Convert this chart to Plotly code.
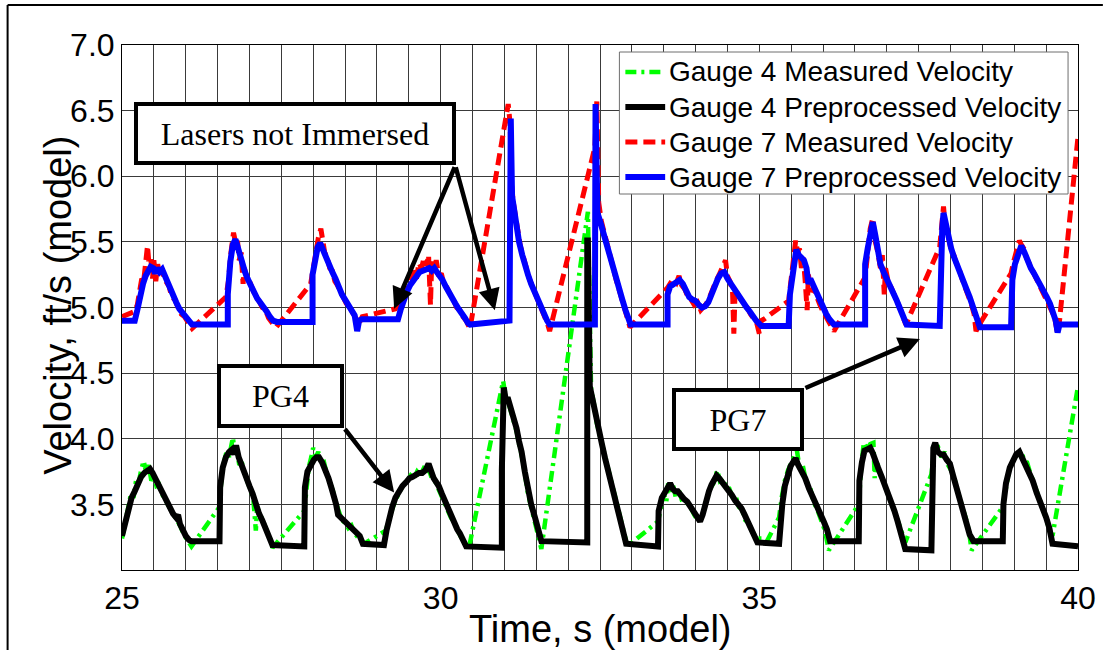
import plotly.graph_objects as go

# ---------------- data (time s, velocity ft/s) ----------------
G4_MEAS = [
    (25.00, 3.24), (25.05, 3.38), (25.10, 3.48), (25.14, 3.58), (25.18, 3.55), (25.22, 3.68), (25.26, 3.66),
    (25.30, 3.76), (25.34, 3.83), (25.38, 3.74), (25.42, 3.80), (25.46, 3.68), (25.50, 3.72), (25.54, 3.64),
    (25.58, 3.65), (25.62, 3.58), (25.67, 3.55), (25.72, 3.50), (25.77, 3.46), (25.82, 3.42), (25.87, 3.38),
    (25.92, 3.33), (25.97, 3.27), (26.03, 3.22), (26.09, 3.18),
    (26.53, 3.48), (26.56, 3.70), (26.60, 3.82), (26.64, 3.90), (26.68, 3.86), (26.71, 3.96), (26.74, 4.01),
    (26.77, 3.88), (26.80, 3.92), (26.84, 3.80), (26.88, 3.82), (26.92, 3.74), (26.97, 3.68), (27.02, 3.62),
    (27.06, 3.55), (27.10, 3.30), (27.12, 3.48), (27.17, 3.42), (27.22, 3.35), (27.27, 3.30), (27.32, 3.25),
    (27.36, 3.17),
    (27.86, 3.45), (27.89, 3.62), (27.93, 3.78), (27.97, 3.86), (28.00, 3.93), (28.04, 3.86), (28.08, 3.90),
    (28.12, 3.82), (28.16, 3.84), (28.21, 3.74), (28.26, 3.68), (28.31, 3.60), (28.35, 3.52), (28.40, 3.45),
    (28.45, 3.38), (28.50, 3.36), (28.55, 3.32), (28.60, 3.34), (28.65, 3.28), (28.70, 3.25), (28.76, 3.22),
    (28.80, 3.20),
    (29.14, 3.30), (29.18, 3.38), (29.23, 3.45), (29.28, 3.52), (29.33, 3.58), (29.38, 3.62), (29.43, 3.66),
    (29.48, 3.68), (29.53, 3.72), (29.58, 3.70), (29.63, 3.75), (29.68, 3.72), (29.73, 3.77), (29.78, 3.74),
    (29.82, 3.76), (29.86, 3.70), (29.91, 3.68), (29.96, 3.62), (30.01, 3.57), (30.06, 3.52), (30.11, 3.45),
    (30.16, 3.40), (30.21, 3.36), (30.26, 3.30), (30.31, 3.26), (30.36, 3.22), (30.44, 3.16),
    (30.98, 4.44), (31.02, 4.32), (31.06, 4.28), (31.10, 4.22), (31.14, 4.15), (31.19, 4.06), (31.23, 3.96),
    (31.27, 3.88), (31.32, 3.74), (31.37, 3.58), (31.42, 3.48), (31.47, 3.38), (31.52, 3.28), (31.58, 3.16),
    (32.31, 5.73), (32.36, 4.38), (32.40, 4.28), (32.45, 4.12), (32.50, 4.02), (32.55, 3.92), (32.60, 3.82),
    (32.65, 3.72), (32.70, 3.62), (32.75, 3.52), (32.80, 3.43), (32.85, 3.34), (32.89, 3.26), (32.93, 3.18),
    (33.41, 3.37), (33.45, 3.48), (33.50, 3.58), (33.54, 3.52), (33.57, 3.66), (33.61, 3.60), (33.65, 3.64),
    (33.69, 3.55), (33.73, 3.62), (33.78, 3.54), (33.83, 3.55), (33.88, 3.50), (33.93, 3.47), (33.98, 3.42),
    (34.03, 3.38), (34.08, 3.40), (34.13, 3.46), (34.18, 3.55), (34.23, 3.62), (34.28, 3.66), (34.34, 3.76),
    (34.38, 3.68), (34.43, 3.70), (34.48, 3.62), (34.53, 3.62), (34.58, 3.55), (34.63, 3.56), (34.68, 3.48),
    (34.73, 3.46), (34.78, 3.38), (34.83, 3.36), (34.88, 3.30), (34.93, 3.26), (34.98, 3.24), (35.05, 3.24),
    (35.12, 3.22),
    (35.31, 3.40), (35.35, 3.55), (35.40, 3.68), (35.45, 3.76), (35.50, 3.82), (35.55, 3.86), (35.59, 3.91),
    (35.63, 3.78), (35.68, 3.80), (35.73, 3.68), (35.79, 3.64), (35.85, 3.52), (35.91, 3.46), (35.97, 3.38),
    (36.03, 3.30), (36.09, 3.15),
    (36.56, 3.50), (36.60, 3.80), (36.64, 3.97), (36.69, 3.92), (36.74, 3.96), (36.79, 3.97), (36.81, 3.70),
    (36.84, 3.84), (36.89, 3.74), (36.94, 3.68), (36.99, 3.62), (37.04, 3.56), (37.09, 3.50), (37.14, 3.42),
    (37.19, 3.35), (37.24, 3.27), (37.29, 3.21),
    (37.70, 3.73), (37.74, 3.90), (37.78, 3.97), (37.82, 3.92), (37.86, 3.86), (37.91, 3.90), (37.96, 3.80),
    (38.01, 3.76), (38.06, 3.70), (38.11, 3.60), (38.16, 3.52), (38.21, 3.44), (38.26, 3.36), (38.30, 3.26),
    (38.33, 3.15),
    (38.82, 3.48), (38.86, 3.62), (38.91, 3.74), (38.96, 3.82), (39.01, 3.86), (39.06, 3.88), (39.11, 3.91),
    (39.15, 3.84), (39.20, 3.82), (39.25, 3.74), (39.31, 3.66), (39.36, 3.58), (39.41, 3.52), (39.46, 3.45),
    (39.51, 3.38), (39.55, 3.30), (39.60, 3.26),
    (40.00, 4.40),
]

G4_PRE = [
    (25.00, 3.26), (25.05, 3.36), (25.10, 3.46), (25.15, 3.55), (25.20, 3.60), (25.25, 3.66), (25.30, 3.71),
    (25.35, 3.74), (25.40, 3.76), (25.44, 3.77), (25.48, 3.74), (25.52, 3.70), (25.56, 3.66), (25.60, 3.62),
    (25.65, 3.57), (25.70, 3.53), (25.75, 3.48), (25.80, 3.43), (25.85, 3.40), (25.88, 3.42), (25.91, 3.35),
    (25.95, 3.30), (26.00, 3.26), (26.05, 3.23), (26.09, 3.22),
    (26.53, 3.22),
    (26.54, 3.63), (26.58, 3.78), (26.63, 3.86), (26.68, 3.90), (26.73, 3.92), (26.76, 3.88), (26.79, 3.95),
    (26.83, 3.86), (26.87, 3.80), (26.91, 3.76), (26.95, 3.70), (27.00, 3.64), (27.05, 3.58), (27.10, 3.50),
    (27.15, 3.43), (27.20, 3.38), (27.25, 3.32), (27.30, 3.26), (27.36, 3.19),
    (27.86, 3.18),
    (27.87, 3.63), (27.91, 3.75), (27.96, 3.81), (28.01, 3.84), (28.05, 3.86), (28.09, 3.86), (28.14, 3.82),
    (28.19, 3.77), (28.24, 3.70), (28.29, 3.62), (28.33, 3.56), (28.36, 3.50), (28.39, 3.42), (28.43, 3.40),
    (28.48, 3.37), (28.53, 3.35), (28.58, 3.33), (28.63, 3.31), (28.68, 3.28), (28.73, 3.26), (28.78, 3.20),
    (29.11, 3.19),
    (29.15, 3.30), (29.19, 3.40), (29.24, 3.48), (29.29, 3.55), (29.34, 3.60), (29.40, 3.64), (29.46, 3.67),
    (29.51, 3.70), (29.56, 3.71), (29.61, 3.73), (29.66, 3.74), (29.71, 3.74), (29.76, 3.76), (29.81, 3.81),
    (29.85, 3.74), (29.89, 3.70), (29.93, 3.67), (29.97, 3.64), (30.02, 3.58), (30.07, 3.52), (30.12, 3.46),
    (30.17, 3.42), (30.22, 3.37), (30.26, 3.31), (30.30, 3.28), (30.35, 3.24), (30.40, 3.18),
    (30.96, 3.17),
    (30.96, 3.76), (30.99, 4.39), (31.02, 4.30), (31.06, 4.30), (31.10, 4.24), (31.14, 4.18), (31.19, 4.08),
    (31.23, 3.98), (31.27, 3.90), (31.32, 3.75), (31.37, 3.60), (31.42, 3.50), (31.48, 3.40), (31.53, 3.30),
    (31.58, 3.22),
    (32.30, 3.21),
    (32.30, 5.51), (32.31, 5.51), (32.34, 4.40), (32.38, 4.30), (32.43, 4.15), (32.48, 4.05), (32.53, 3.96),
    (32.58, 3.85), (32.63, 3.75), (32.68, 3.65), (32.73, 3.56), (32.78, 3.47), (32.83, 3.37), (32.87, 3.28),
    (32.91, 3.20),
    (33.41, 3.18),
    (33.42, 3.45), (33.47, 3.55), (33.52, 3.60), (33.56, 3.63), (33.60, 3.66), (33.64, 3.62), (33.68, 3.60),
    (33.72, 3.60), (33.77, 3.56), (33.82, 3.54), (33.87, 3.52), (33.92, 3.48), (33.97, 3.44), (34.02, 3.40),
    (34.07, 3.37), (34.11, 3.42), (34.16, 3.52), (34.21, 3.60), (34.25, 3.65), (34.29, 3.68), (34.33, 3.72),
    (34.37, 3.70), (34.42, 3.67), (34.47, 3.64), (34.52, 3.60), (34.57, 3.57), (34.62, 3.53), (34.67, 3.50),
    (34.72, 3.47), (34.77, 3.42), (34.81, 3.38), (34.86, 3.32), (34.91, 3.27), (34.97, 3.21),
    (35.31, 3.20),
    (35.33, 3.35), (35.36, 3.50), (35.40, 3.64), (35.44, 3.73), (35.49, 3.79), (35.54, 3.83), (35.57, 3.85),
    (35.61, 3.80), (35.66, 3.76), (35.72, 3.70), (35.78, 3.62), (35.85, 3.55), (35.90, 3.48), (35.96, 3.42),
    (36.01, 3.37), (36.06, 3.31), (36.11, 3.22),
    (36.56, 3.22),
    (36.57, 3.68), (36.61, 3.82), (36.65, 3.91), (36.70, 3.92), (36.74, 3.93), (36.78, 3.89), (36.82, 3.82),
    (36.87, 3.77), (36.92, 3.71), (36.97, 3.65), (37.02, 3.58), (37.07, 3.52), (37.12, 3.45), (37.17, 3.37),
    (37.22, 3.29), (37.26, 3.22), (37.29, 3.16),
    (37.70, 3.15),
    (37.71, 3.70), (37.73, 3.93), (37.76, 3.97), (37.80, 3.90), (37.85, 3.88), (37.89, 3.88), (37.94, 3.84),
    (37.99, 3.81), (38.04, 3.72), (38.09, 3.63), (38.14, 3.55), (38.20, 3.43), (38.25, 3.35), (38.30, 3.27),
    (38.36, 3.22),
    (38.82, 3.22),
    (38.83, 3.50), (38.87, 3.66), (38.93, 3.78), (38.98, 3.84), (39.03, 3.88), (39.08, 3.90), (39.13, 3.85),
    (39.18, 3.80), (39.24, 3.74), (39.29, 3.68), (39.35, 3.59), (39.40, 3.53), (39.45, 3.48), (39.50, 3.40),
    (39.55, 3.32), (39.60, 3.20),
    (40.00, 3.18),
]

G7_MEAS = [
    (25.00, 4.93), (25.20, 4.97), (25.24, 5.02), (25.28, 5.12), (25.31, 5.22), (25.34, 5.20), (25.37, 5.32),
    (25.40, 5.47), (25.42, 5.35), (25.45, 5.38), (25.48, 5.22), (25.50, 5.36), (25.53, 5.20), (25.56, 5.33),
    (25.59, 5.25), (25.62, 5.30), (25.66, 5.22), (25.70, 5.18), (25.74, 5.16), (25.78, 5.08), (25.83, 5.06),
    (25.88, 5.00), (25.93, 4.95), (25.98, 4.93), (26.04, 4.88), (26.10, 4.84),
    (26.63, 5.08), (26.67, 5.20), (26.71, 5.42), (26.75, 5.57), (26.78, 5.50), (26.81, 5.52), (26.84, 5.36),
    (26.87, 5.42), (26.90, 5.18), (26.92, 5.30), (26.96, 5.22), (27.00, 5.20), (27.05, 5.14), (27.10, 5.08),
    (27.15, 5.05), (27.20, 5.00), (27.25, 4.98), (27.30, 4.92), (27.36, 4.88), (27.42, 4.85),
    (27.96, 5.18), (28.00, 5.30), (28.04, 5.42), (28.08, 5.53), (28.12, 5.60), (28.15, 5.48), (28.18, 5.42),
    (28.22, 5.38), (28.26, 5.30), (28.30, 5.28), (28.34, 5.20), (28.38, 5.17), (28.42, 5.12), (28.47, 5.08),
    (28.52, 5.03), (28.57, 5.01), (28.62, 4.96), (28.67, 4.92), (28.72, 4.88), (28.77, 4.93),
    (29.29, 4.99), (29.33, 5.03), (29.38, 5.08), (29.43, 5.14), (29.48, 5.18), (29.53, 5.24), (29.58, 5.28),
    (29.62, 5.22), (29.66, 5.34), (29.70, 5.30), (29.74, 5.38), (29.78, 5.32), (29.81, 5.40), (29.84, 5.02),
    (29.86, 5.35), (29.90, 5.28), (29.93, 5.36), (29.97, 5.24), (30.01, 5.26), (30.05, 5.18), (30.10, 5.15),
    (30.15, 5.10), (30.20, 5.06), (30.25, 5.00), (30.30, 4.98), (30.35, 4.93), (30.40, 4.90), (30.46, 4.84),
    (31.06, 6.55), (31.09, 6.40), (31.11, 5.95), (31.14, 5.80), (31.17, 5.70), (31.21, 5.58), (31.25, 5.47),
    (31.30, 5.38), (31.34, 5.30), (31.39, 5.22), (31.44, 5.16), (31.49, 5.10), (31.54, 5.04), (31.59, 4.98),
    (31.64, 4.93), (31.68, 4.87), (31.71, 4.82),
    (32.42, 6.22), (32.45, 6.57), (32.48, 5.80), (32.52, 5.66), (32.56, 5.58), (32.61, 5.47), (32.66, 5.37),
    (32.71, 5.28), (32.76, 5.20), (32.81, 5.12), (32.86, 5.04), (32.91, 4.97), (32.95, 4.90), (32.97, 4.85),
    (33.56, 5.15), (33.60, 5.18), (33.65, 5.22), (33.70, 5.19), (33.74, 5.24), (33.78, 5.17), (33.83, 5.14),
    (33.88, 5.08), (33.93, 5.06), (33.98, 5.02), (34.03, 5.04), (34.08, 4.98), (34.12, 5.00), (34.17, 5.03),
    (34.22, 5.08), (34.27, 5.15), (34.32, 5.20), (34.37, 5.25), (34.42, 5.30), (34.47, 5.36), (34.50, 5.24),
    (34.54, 5.20), (34.58, 5.12), (34.60, 4.80), (34.62, 5.14), (34.66, 5.10), (34.71, 5.06), (34.76, 5.03),
    (34.81, 5.00), (34.86, 4.95), (34.91, 4.92), (34.96, 4.88), (35.00, 4.80), (35.03, 4.90), (35.07, 4.91),
    (35.46, 5.05), (35.50, 5.22), (35.53, 5.35), (35.57, 5.51), (35.60, 5.42), (35.63, 5.45), (35.66, 5.30),
    (35.69, 5.38), (35.72, 5.20), (35.75, 4.98), (35.77, 5.25), (35.81, 5.12), (35.85, 5.15), (35.90, 5.08),
    (35.95, 5.02), (36.00, 4.97), (36.05, 4.93), (36.10, 4.88), (36.17, 4.82),
    (36.66, 5.23), (36.70, 5.42), (36.74, 5.60), (36.78, 5.68), (36.82, 5.50), (36.86, 5.42), (36.90, 5.30),
    (36.93, 5.40), (36.96, 5.10), (36.98, 5.30), (37.02, 5.20), (37.07, 5.15), (37.12, 5.10), (37.17, 5.04),
    (37.22, 4.98), (37.26, 4.92), (37.30, 4.87),
    (37.83, 5.46), (37.86, 5.65), (37.89, 5.77), (37.92, 5.60), (37.96, 5.55), (38.00, 5.46), (38.04, 5.42),
    (38.08, 5.35), (38.13, 5.30), (38.18, 5.22), (38.23, 5.16), (38.28, 5.10), (38.33, 5.02), (38.37, 4.95),
    (38.40, 4.82), (38.45, 4.87),
    (38.95, 5.26), (38.99, 5.35), (39.04, 5.45), (39.08, 5.51), (39.11, 5.48), (39.15, 5.45), (39.19, 5.38),
    (39.23, 5.34), (39.28, 5.28), (39.33, 5.24), (39.38, 5.20), (39.43, 5.15), (39.48, 5.10), (39.53, 5.05),
    (39.58, 5.00), (39.63, 4.93), (39.68, 4.80), (39.71, 4.90),
    (40.00, 6.30),
]

G7_PRE = [
    (25.00, 4.90), (25.20, 4.90), (25.24, 4.98), (25.28, 5.08), (25.33, 5.18), (25.37, 5.24), (25.41, 5.29),
    (25.45, 5.31), (25.49, 5.30), (25.52, 5.26), (25.55, 5.30), (25.59, 5.27), (25.63, 5.29), (25.67, 5.24),
    (25.71, 5.20), (25.75, 5.14), (25.80, 5.10), (25.85, 5.04), (25.90, 4.99), (25.95, 4.96), (26.00, 4.92),
    (26.05, 4.89), (26.10, 4.87),
    (26.66, 4.87),
    (26.66, 5.10), (26.70, 5.35), (26.74, 5.48), (26.78, 5.52), (26.82, 5.45), (26.86, 5.38), (26.89, 5.30),
    (26.93, 5.27), (26.97, 5.22), (27.02, 5.18), (27.07, 5.12), (27.12, 5.07), (27.17, 5.04), (27.22, 5.01),
    (27.27, 4.97), (27.32, 4.93), (27.37, 4.90), (27.43, 4.89),
    (27.99, 4.89),
    (27.99, 5.25), (28.03, 5.38), (28.07, 5.46), (28.11, 5.49), (28.15, 5.44), (28.20, 5.37), (28.25, 5.31),
    (28.30, 5.27), (28.35, 5.22), (28.40, 5.15), (28.45, 5.10), (28.50, 5.06), (28.55, 5.02), (28.60, 4.98),
    (28.65, 4.94), (28.69, 4.82), (28.72, 4.90), (28.76, 4.91),
    (29.33, 4.91),
    (29.37, 4.98), (29.42, 5.06), (29.47, 5.12), (29.52, 5.17), (29.57, 5.21), (29.62, 5.25), (29.67, 5.27),
    (29.72, 5.28), (29.77, 5.29), (29.82, 5.30), (29.86, 5.28), (29.90, 5.30), (29.94, 5.27), (29.98, 5.25),
    (30.03, 5.21), (30.08, 5.16), (30.13, 5.11), (30.18, 5.07), (30.23, 5.03), (30.28, 4.99), (30.33, 4.96),
    (30.38, 4.92), (30.43, 4.88), (30.46, 4.87),
    (31.08, 4.90),
    (31.08, 6.10), (31.10, 6.44), (31.12, 5.85), (31.15, 5.75), (31.19, 5.62), (31.23, 5.50), (31.28, 5.40),
    (31.32, 5.32), (31.37, 5.25), (31.42, 5.18), (31.47, 5.12), (31.52, 5.06), (31.57, 5.01), (31.62, 4.95),
    (31.67, 4.90), (31.71, 4.87),
    (32.42, 4.87),
    (32.43, 6.55), (32.46, 5.72), (32.50, 5.66), (32.55, 5.57), (32.60, 5.48), (32.65, 5.38), (32.70, 5.29),
    (32.75, 5.22), (32.80, 5.14), (32.85, 5.06), (32.90, 4.98), (32.95, 4.90), (32.98, 4.87),
    (33.56, 4.87),
    (33.56, 5.10), (33.60, 5.16), (33.65, 5.18), (33.70, 5.20), (33.75, 5.21), (33.80, 5.18), (33.85, 5.12),
    (33.90, 5.08), (33.95, 5.06), (34.00, 5.05), (34.05, 5.02), (34.10, 5.00), (34.15, 5.01), (34.20, 5.04),
    (34.25, 5.10), (34.30, 5.17), (34.35, 5.22), (34.40, 5.26), (34.45, 5.27), (34.50, 5.22), (34.55, 5.18),
    (34.60, 5.14), (34.65, 5.10), (34.70, 5.07), (34.75, 5.04), (34.80, 5.00), (34.85, 4.97), (34.90, 4.93),
    (34.95, 4.90), (35.03, 4.86),
    (35.46, 4.86),
    (35.48, 5.10), (35.52, 5.26), (35.55, 5.38), (35.58, 5.44), (35.62, 5.40), (35.66, 5.37), (35.70, 5.36),
    (35.74, 5.30), (35.77, 5.18), (35.80, 5.22), (35.85, 5.16), (35.90, 5.10), (35.95, 5.04), (36.00, 4.99),
    (36.05, 4.95), (36.10, 4.91), (36.17, 4.87),
    (36.66, 4.87),
    (36.66, 5.33), (36.70, 5.45), (36.74, 5.58), (36.78, 5.65), (36.82, 5.55), (36.86, 5.40), (36.90, 5.33),
    (36.95, 5.27), (37.00, 5.22), (37.05, 5.18), (37.10, 5.12), (37.15, 5.06), (37.20, 5.00), (37.25, 4.94),
    (37.31, 4.87),
    (37.83, 4.86),
    (37.84, 5.20), (37.87, 5.60), (37.89, 5.72), (37.93, 5.62), (37.97, 5.52), (38.01, 5.45), (38.05, 5.39),
    (38.10, 5.32), (38.15, 5.26), (38.20, 5.20), (38.25, 5.14), (38.30, 5.08), (38.35, 5.01), (38.40, 4.94),
    (38.46, 4.85),
    (38.95, 4.85),
    (38.97, 5.21), (39.01, 5.33), (39.06, 5.42), (39.11, 5.47), (39.16, 5.42), (39.21, 5.35), (39.26, 5.30),
    (39.31, 5.26), (39.36, 5.22), (39.41, 5.18), (39.46, 5.13), (39.51, 5.08), (39.56, 5.03), (39.61, 4.97),
    (39.65, 4.90), (39.68, 4.81), (39.71, 4.87),
    (40.00, 4.87),
]

SERIES_NAMES = ["Gauge 4 Measured Velocity", "Gauge 4 Preprocessed Velocity",
                "Gauge 7 Measured Velocity", "Gauge 7 Preprocessed Velocity"]
X_TICKS = [25 + 0.5 * i for i in range(31)]
X_LABELS = {25: "25", 30: "30", 35: "35", 40: "40"}
Y_TICKS = [3.0 + 0.5 * i for i in range(9)]
Y_LABELS = ["", "3.5", "4.0", "4.5", "5.0", "5.5", "6.0", "6.5", "7.0"]

# ---------------- figure ----------------
SANS = "Liberation Sans, Arial, sans-serif"
SERIF = "Liberation Serif, Times New Roman, serif"

styles = [
    dict(color="#00FF00", width=4.5, dash="11px,5px,3px,5px"),
    dict(color="#000000", width=6, dash="solid"),
    dict(color="#FF0000", width=5, dash="12px,6px"),
    dict(color="#0000FF", width=6, dash="solid"),
]

fig = go.Figure()
for name, data, st in zip(SERIES_NAMES, [G4_MEAS, G4_PRE, G7_MEAS, G7_PRE], styles):
    fig.add_trace(go.Scatter(
        x=[p[0] for p in data], y=[p[1] for p in data], mode="lines", name=name,
        line=dict(color=st["color"], width=st["width"], dash=st["dash"]),
        showlegend=False,
    ))

xt_text = [X_LABELS.get(int(v), "") if float(v).is_integer() else "" for v in X_TICKS]

grid_col = "#3a3a3a"
fig.update_layout(
    width=1108, height=650,
    margin=dict(l=122, r=25, t=45, b=80),
    paper_bgcolor="white", plot_bgcolor="white",
    font=dict(family=SANS, color="black"),
    showlegend=False,
    xaxis=dict(
        range=[25, 40], tickmode="array", tickvals=X_TICKS, ticktext=xt_text,
        showgrid=True, gridcolor=grid_col, gridwidth=1, zeroline=False,
        showline=True, linecolor="black", linewidth=1, mirror=True,
        ticks="", tickfont=dict(family=SANS, size=32, color="black"),
    ),
    yaxis=dict(
        range=[3.0, 7.0], tickmode="array", tickvals=Y_TICKS, ticktext=Y_LABELS,
        showgrid=True, gridcolor=grid_col, gridwidth=1, zeroline=False,
        showline=True, linecolor="black", linewidth=1, mirror=True,
        ticks="", tickfont=dict(family=SANS, size=32, color="black"),
    ),
)


def px_to_paper_x(px):
    return (px - 122) / 961.0


def py_to_paper_y(py):
    return (570 - py) / 525.0


# axis titles
fig.add_annotation(text="Time, s (model)", xref="paper", yref="paper", x=0.5, y=-0.112,
                   xanchor="center", yanchor="middle", showarrow=False,
                   font=dict(family=SANS, size=38, color="black"))
fig.add_annotation(text="Velocity, ft/s (model)", xref="paper", yref="paper", x=-0.067, y=0.505,
                   xanchor="center", yanchor="middle", showarrow=False, textangle=-90,
                   font=dict(family=SANS, size=38, color="black"))

# legend (drawn by hand to match the tight row spacing)
fig.add_shape(type="rect", xref="paper", yref="paper", layer="above",
              x0=px_to_paper_x(622), x1=px_to_paper_x(1073), y0=py_to_paper_y(194), y1=py_to_paper_y(52),
              line=dict(color="#6e6e6e", width=1), fillcolor="white")
for i, (name, st) in enumerate(zip(SERIES_NAMES, styles)):
    row_y = py_to_paper_y(72 + 35 * i)
    fig.add_shape(type="line", xref="paper", yref="paper", layer="above",
                  x0=px_to_paper_x(628), x1=px_to_paper_x(668), y0=row_y, y1=row_y,
                  line=dict(color=st["color"], width=st["width"], dash=st["dash"]))
    fig.add_annotation(text=name, xref="paper", yref="paper", x=px_to_paper_x(670), y=row_y,
                       xanchor="left", yanchor="middle", showarrow=False,
                       font=dict(family=SANS, size=28, color="black"))

# callout boxes
box = dict(showarrow=False, xanchor="center", yanchor="middle", bgcolor="white",
           bordercolor="black", borderwidth=4, borderpad=0,
           font=dict(family=SERIF, size=32, color="black"))
fig.add_annotation(text="Lasers not Immersed", x=27.72, y=6.324, width=314, height=55, **box)
fig.add_annotation(text="PG4", x=27.49, y=4.328, width=119, height=56, **box)
fig.add_annotation(text="PG7", x=34.67, y=4.149, width=124, height=55, **box)

# arrows (tail at box corner, head at target)
arrows = [
    (30.23, 6.08, 29.27, 4.99),
    (30.23, 6.08, 30.85, 4.98),
    (28.48, 4.084, 29.27, 3.59),
    (35.70, 4.382, 37.52, 4.76),
]
for ax0, ay0, x1, y1 in arrows:
    fig.add_annotation(x=x1, y=y1, ax=ax0, ay=ay0, xref="x", yref="y", axref="x", ayref="y",
                       text="", showarrow=True, arrowhead=2, arrowsize=0.95, arrowwidth=4.5,
                       arrowcolor="black", standoff=0, startstandoff=0)

# figure frame (top and left edges)
fig.add_shape(type="line", xref="paper", yref="paper",
              x0=px_to_paper_x(7), x1=px_to_paper_x(1108), y0=py_to_paper_y(5), y1=py_to_paper_y(5),
              line=dict(color="black", width=2))
fig.add_shape(type="line", xref="paper", yref="paper",
              x0=px_to_paper_x(7), x1=px_to_paper_x(7), y0=py_to_paper_y(5), y1=py_to_paper_y(650),
              line=dict(color="black", width=2))

fig.write_html("out.html")
